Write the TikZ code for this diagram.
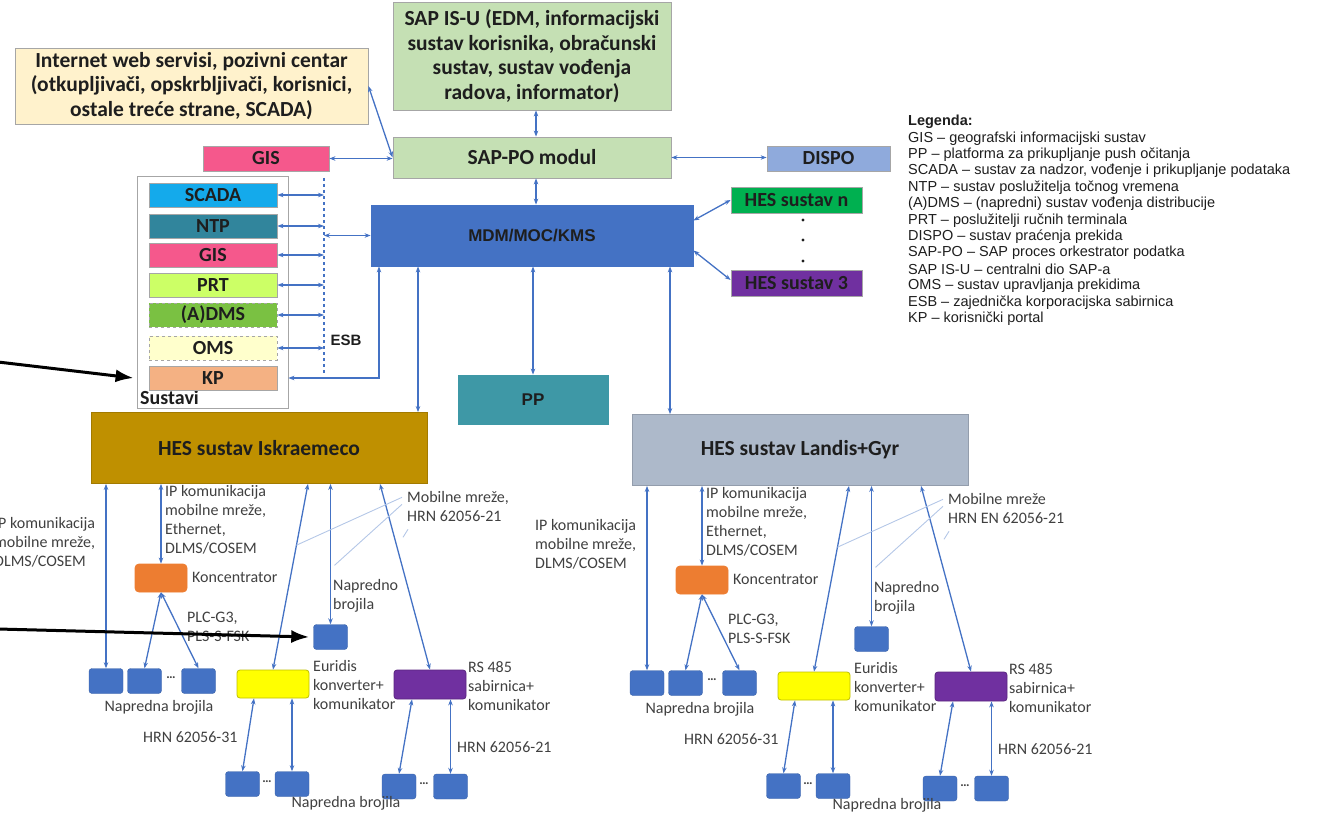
\documentclass[tikz,border=0pt]{standalone}
\usepackage{fontspec}
\setmainfont{Carlito}
\newfontfamily\arialfont{Liberation Sans}
\usepackage{tikz}
\usetikzlibrary{positioning,calc,arrows.meta}
\definecolor{ConBlue}{RGB}{68,114,196}
\definecolor{WebFill}{RGB}{255,242,204}
\definecolor{SapGreen}{RGB}{197,224,180}
\definecolor{GisPink}{RGB}{245,88,140}
\definecolor{DispoBlue}{RGB}{143,170,220}
\definecolor{MdmBlue}{RGB}{68,114,196}
\definecolor{HesGreen}{RGB}{0,176,80}
\definecolor{HesPurple}{RGB}{112,48,160}
\definecolor{PpTeal}{RGB}{62,152,166}
\definecolor{ScadaBlue}{RGB}{20,170,235}
\definecolor{NtpTeal}{RGB}{49,133,156}
\definecolor{PrtLime}{RGB}{204,255,102}
\definecolor{AdmsGreen}{RGB}{122,193,66}
\definecolor{OmsCream}{RGB}{255,255,204}
\definecolor{KpSalmon}{RGB}{244,177,131}
\definecolor{HesGold}{RGB}{191,144,0}
\definecolor{HesGray}{RGB}{173,185,202}
\definecolor{KonOrange}{RGB}{237,125,49}
\definecolor{EurYellow}{RGB}{255,255,0}
\definecolor{TextDark}{RGB}{30,30,30}
\definecolor{TextGray}{RGB}{64,64,64}
\definecolor{EdgeGray}{RGB}{166,166,166}

\tikzset{
  blok/.style={draw=EdgeGray, line width=0.8pt, inner sep=0pt, align=center, text=TextDark,
    font=\bfseries\fontsize{21.5}{24.5}\selectfont},
  sysbox/.style={blok, minimum width=128pt, minimum height=24pt, font=\bfseries\fontsize{20}{20}\selectfont},
  meter/.style={fill=MdmBlue, draw=MdmBlue!85!black, rounded corners=3pt, minimum width=34pt,
    minimum height=25pt, inner sep=0pt},
  con/.style={draw=ConBlue, line width=1.3pt, {Stealth[length=6pt,width=4.5pt]}-{Stealth[length=6pt,width=4.5pt]}},
  callout/.style={draw=ConBlue!40, line width=0.9pt},
  lbl/.style={text=TextGray, align=left, inner sep=0pt, font=\fontsize{16}{19}\selectfont},
  legline/.style={anchor=west, inner sep=0pt, text=TextDark, font=\arialfont\fontsize{14.5}{14.5}\selectfont},
  pointer/.style={line width=3pt, -{Latex[length=18pt,width=13pt]}}
}

\begin{document}
\begin{tikzpicture}[x=1pt,y=-1pt]
\useasboundingbox (0,0) rectangle (1324,813);

% gornji dio
\node[blok, fill=WebFill, minimum width=353pt, minimum height=76pt] (web) at (191.5,86)
  {Internet web servisi, pozivni centar\\(otkupljivači, opskrbljivači, korisnici,\\ostale treće strane, SCADA)};
\node[blok, fill=SapGreen, minimum width=278pt, minimum height=108pt] (isu) at (532,56)
  {SAP IS-U (EDM, informacijski\\sustav korisnika, obračunski\\sustav, sustav vođenja\\radova, informator)};
\node[blok, fill=SapGreen, minimum width=278pt, minimum height=41pt] (sappo) at (532,157.5) {SAP-PO modul};
\node[blok, fill=GisPink, minimum width=126pt, minimum height=25pt, font=\bfseries\fontsize{20}{20}\selectfont] (gis) at (266,158.5) {GIS};
\node[blok, fill=DispoBlue, minimum width=123pt, minimum height=25pt, font=\bfseries\fontsize{20}{20}\selectfont] (dispo) at (828.5,158.5) {DISPO};
\node[blok, fill=MdmBlue, draw=MdmBlue, minimum width=322pt, minimum height=61pt,
  font=\arialfont\bfseries\fontsize{17}{17}\selectfont] (mdm) at (532,235.5) {MDM/MOC/KMS};
\node[blok, fill=HesGreen, minimum width=131pt, minimum height=26pt, font=\bfseries\fontsize{20}{20}\selectfont] (hesn) at (796.5,200) {HES sustav n};
\node[blok, fill=HesPurple, minimum width=131pt, minimum height=26pt, font=\bfseries\fontsize{20}{20}\selectfont] (hes3) at (796.5,283) {HES sustav 3};
\foreach \y [count=\i] in {220,240,261}
  \node[circle, fill=TextDark, inner sep=1.2pt] (dot\i) at (803,\y) {};
\node[blok, fill=PpTeal, draw=PpTeal, minimum width=150pt, minimum height=49pt,
  font=\arialfont\bfseries\fontsize{17}{17}\selectfont] (pp) at (533,399.5) {PP};

% sustavi + ESB
\node[draw=EdgeGray, line width=0.8pt, minimum width=151pt, minimum height=232pt, inner sep=0pt] (sus) at (212.5,292) {};
\node[anchor=base west, inner sep=0pt, text=TextDark, font=\bfseries\fontsize{20}{20}\selectfont] (susl) at (140,404) {Sustavi};
\foreach \nm/\txt/\col/\y/\ln in {scada/SCADA/ScadaBlue/195/solid, ntp/NTP/NtpTeal/226/solid,
    gisb/GIS/GisPink/255/solid, prt/PRT/PrtLime/285/solid, adms/{(A)DMS}/AdmsGreen/315/dashed,
    oms/OMS/OmsCream/348/dashed, kp/KP/KpSalmon/378/solid}
  \node[sysbox, fill=\col, \ln] (\nm) at (213,\y) {\txt};
\coordinate (esbtop) at (324,178);
\coordinate (esbbot) at (324,373);
\draw[ConBlue, line width=1.3pt, dashed] (esbtop) -- (esbbot);
\node[text=TextDark, font=\arialfont\bfseries\fontsize{15}{15}\selectfont] (esb) at (346,340) {ESB};
\foreach \nm in {scada,ntp,gisb,prt,adms,oms}
  \draw[con] (\nm.east) -- (\nm.east -| esbtop);
\draw[con] (esbtop |- mdm.west) -- (mdm.west);
\draw[con] (kp.east -| sus.east) -| ([xshift=-153pt]mdm.south);

% veze gore
\draw[con] (web.east) -- (sappo.west);
\draw[con] (gis.east) -- (gis.east -| sappo.west);
\draw[con] ([xshift=4pt]isu.south) -- ([xshift=4pt]sappo.north);
\draw[con] ([xshift=4pt]sappo.south) -- ([xshift=4pt]mdm.north);
\draw[con] (sappo.east) -- (sappo.east -| dispo.west);
\draw[con] ([yshift=15pt]mdm.east) -- (hesn.west);
\draw[con] ([yshift=-15pt]mdm.east) -- ([yshift=3pt]hes3.west);
\draw[con] (pp.north |- mdm.south) -- (pp.north);

% legenda
\node[legline, font=\arialfont\bfseries\fontsize{14.5}{14.5}\selectfont] (leg0) at (908,122) {Legenda:};
\foreach \txt [count=\i] in {GIS – geografski informacijski sustav,
    PP – platforma za prikupljanje push očitanja,
    {SCADA – sustav za nadzor, vođenje i prikupljanje podataka},
    NTP – sustav poslužitelja točnog vremena,
    {(A)DMS – (napredni) sustav vođenja distribucije},
    PRT – poslužitelji ručnih terminala,
    DISPO – sustav praćenja prekida,
    SAP-PO – SAP proces orkestrator podatka,
    SAP IS-U – centralni dio SAP-a,
    OMS – sustav upravljanja prekidima,
    ESB – zajednička korporacijska sabirnica,
    KP – korisnički portal}
  \node[legline] (leg\i) at (908,{122+16.4*\i}) {\txt};

% HES sustavi i brojila
\foreach \dx/\dy/\s/\hcol/\hname/\mob/\hrn in {0/0/a/HesGold/{HES sustav Iskraemeco}/{Mobilne mreže,}/{HRN 62056-21},
    541/2/b/HesGray/{HES sustav Landis+Gyr}/{Mobilne mreže}/{HRN EN 62056-21}} {
  \begin{scope}[shift={(\dx,\dy)}]
    \node[blok, fill=\hcol, draw=\hcol!85!black, minimum width=336pt, minimum height=71pt,
      font=\bfseries\fontsize{21.5}{21.5}\selectfont] (hes\s) at (259,448) {\hname};
    \node[blok, fill=KonOrange, draw=KonOrange, rounded corners=4pt, minimum width=52pt, minimum height=28pt] (kon\s) at (161,578) {};
    \foreach \x [count=\i] in {106,144.5,198.5}
      \node[meter] (m\s\i) at (\x,681) {};
    \node[blok, fill=EurYellow, draw=EurYellow!75!black, rounded corners=3pt, minimum width=72pt, minimum height=28pt] (eur\s) at (273,684) {};
    \node[blok, fill=HesPurple, draw=HesPurple!80!black, rounded corners=3pt, minimum width=72pt, minimum height=29pt] (rs\s) at (430,684.5) {};
    \node[meter] (nm\s) at (330.5,637) {};
    \node[meter] (e\s1) at (242.5,784) {};
    \node[meter] (e\s2) at (292,784) {};
    \node[meter] (r\s1) at (399,786.5) {};
    \node[meter] (r\s2) at (450.5,786.5) {};
    % tekstovi
    \node[lbl, anchor=north west] (ipl\s) at (-6,517) {IP komunikacija\\mobilne mreže,\\DLMS/COSEM};
    \node[lbl, anchor=north west] (ipk\s) at (165,485) {IP komunikacija\\mobilne mreže,\\Ethernet,\\DLMS/COSEM};
    \node[lbl, anchor=west] (konl\s) at (192,577) {Koncentrator};
    \node[lbl, anchor=north west] (plc\s) at (187,612) {PLC-G3,\\PLS-S-FSK};
    \node[lbl, font=\bfseries\fontsize{13}{13}\selectfont] (dm\s) at (171,678) {…};
    \node[lbl] (nb\s) at (159,707) {Napredna brojila};
    \node[lbl, anchor=north west] (nbl\s) at (333,579) {Napredno\\brojila};
    \node[lbl, anchor=north west] (eurl\s) at (313,660) {Euridis\\konverter+\\komunikator};
    \node[lbl, anchor=north west] (rsl\s) at (468,661) {RS 485\\sabirnica+\\komunikator};
    \node[lbl, anchor=north west] (mob\s) at (407,491) {\mob\\\hrn};
    \node[lbl, anchor=north west] (h31\s) at (143,731) {HRN 62056-31};
    \node[lbl, anchor=north west] (h21\s) at (457,741) {HRN 62056-21};
    \node[lbl, font=\bfseries\fontsize{13}{13}\selectfont] (de\s) at (267,782) {…};
    \node[lbl, font=\bfseries\fontsize{13}{13}\selectfont] (dr\s) at (424,784) {…};
    \node[lbl] (nbb\s) at (346,803) {Napredna brojila};
    % veze
    \draw[con] (m\s1.north |- hes\s.south) -- (m\s1.north);
    \draw[con] (kon\s.north |- hes\s.south) -- (kon\s.north);
    \draw[con] (kon\s.south) -- (m\s2.north);
    \draw[con] (kon\s.south) -- (m\s3.north);
    \draw[con] ([xshift=49pt]hes\s.south) -- coordinate[pos=0.33] (ce\s) (eur\s.north);
    \draw[con] (nm\s.north |- hes\s.south) -- coordinate[pos=0.58] (cn\s) (nm\s.north);
    \draw[con] ([xshift=121pt]hes\s.south) -- (rs\s.north);
    \draw[con] ([xshift=-19pt]eur\s.south) -- (e\s1.north);
    \draw[con] (e\s2.north |- eur\s.south) -- (e\s2.north);
    \draw[con] ([xshift=-18pt]rs\s.south) -- (r\s1.north);
    \draw[con] (r\s2.north |- rs\s.south) -- (r\s2.north);
    \draw[callout] ([shift={(-5pt,9pt)}]mob\s.west) -- (ce\s);
    \draw[callout] ([shift={(-5pt,2pt)}]mob\s.west) -- ([xshift=4pt]cn\s);
    \draw[callout] ([shift={(1pt,-23pt)}]mob\s.west) -- ++(-5,8);
  \end{scope}
}

% MDM prema HES
\coordinate (ma) at ([xshift=-114pt]mdm.south);
\coordinate (mb) at ([xshift=138pt]mdm.south);
\draw[con] (ma) -- (ma |- hesa.north);
\draw[con] (mb) -- (mb |- hesb.north);

% crne strelice
\coordinate (pa) at (-2,362);
\coordinate (pb) at (-2,629);
\coordinate (pae) at (kp.west -| sus.west);
\draw[pointer] (pa) -- ([xshift=-3pt]pae);
\draw[pointer] (pb) -- ([xshift=-4pt]nma.west);
\end{tikzpicture}
\end{document}
